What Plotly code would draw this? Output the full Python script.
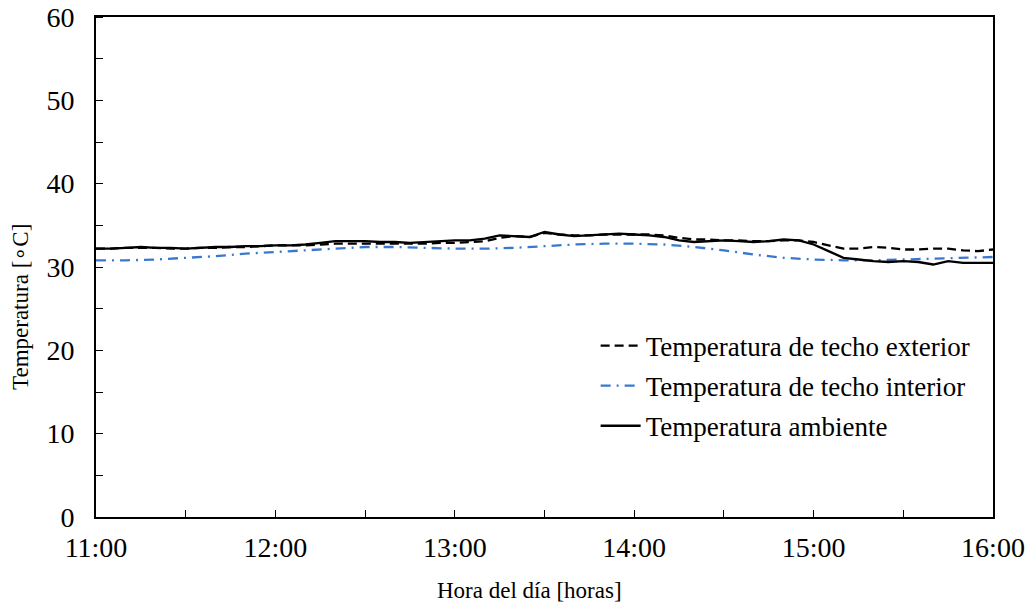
import plotly.graph_objects as go

# 5-minute timestamps from 11:00 to 16:00
times = [f"2024-01-01 {h:02d}:{m:02d}" for h in range(11, 16) for m in range(0, 60, 5)] + ["2024-01-01 16:00"]

t_exterior = [
    32.2, 32.2, 32.3, 32.3, 32.3, 32.2, 32.2, 32.3, 32.3, 32.4, 32.4, 32.5,
    32.6, 32.6, 32.6, 32.7, 32.8, 32.8, 32.8, 32.8, 32.8, 32.8, 32.8, 32.9,
    32.9, 33.0, 33.1, 33.5, 33.7, 33.6, 34.1, 33.9, 33.8, 33.8, 33.9, 33.9,
    33.9, 33.9, 33.8, 33.5, 33.3, 33.3, 33.2, 33.2, 33.1, 33.1, 33.2, 33.2,
    33.0, 32.6, 32.2, 32.2, 32.4, 32.3, 32.1, 32.1, 32.2, 32.2, 32.0, 31.9,
    32.1,
]

t_ambiente = [
    32.2, 32.2, 32.3, 32.4, 32.3, 32.3, 32.2, 32.3, 32.4, 32.4, 32.5, 32.5,
    32.6, 32.6, 32.7, 32.9, 33.1, 33.1, 33.1, 33.0, 33.0, 32.9, 33.0, 33.1,
    33.2, 33.2, 33.4, 33.8, 33.7, 33.6, 34.2, 33.9, 33.7, 33.8, 33.9, 34.0,
    33.9, 33.8, 33.6, 33.2, 33.0, 33.1, 33.2, 33.1, 33.0, 33.1, 33.3, 33.2,
    32.7, 31.9, 31.1, 30.9, 30.7, 30.6, 30.7, 30.6, 30.3, 30.7, 30.5, 30.5,
    30.5,
]

# 10-minute timestamps for the interior roof temperature
times_int = [f"2024-01-01 {h:02d}:{m:02d}" for h in range(11, 16) for m in range(0, 60, 10)] + ["2024-01-01 16:00"]
t_interior = [
    30.8, 30.8, 30.9, 31.1, 31.3, 31.6,
    31.8, 32.0, 32.2, 32.4, 32.4, 32.3,
    32.2, 32.2, 32.3, 32.5, 32.7, 32.8,
    32.8, 32.7, 32.4, 32.0, 31.5, 31.1,
    30.9, 30.8, 30.8, 30.9, 31.0, 31.1,
    31.2,
]

names = ["Temperatura de techo exterior", "Temperatura de techo interior", "Temperatura ambiente"]
x_ticks = ["2024-01-01 11:00", "2024-01-01 12:00", "2024-01-01 13:00",
           "2024-01-01 14:00", "2024-01-01 15:00", "2024-01-01 16:00"]
x_labels = ["11:00", "12:00", "13:00", "14:00", "15:00", "16:00"]
x_title = "Hora del día [horas]"
y_title = "Temperatura [∘C]"

FONT = "Liberation Serif"
FS_TICK = 28
FS_LEG = 27
FS_TITLE = 23

fig = go.Figure()
fig.add_trace(go.Scatter(x=times, y=t_exterior, mode="lines", name=names[0], legendgroup="a",
                         line=dict(color="black", width=2.3, dash="9px,5px")))
fig.add_trace(go.Scatter(x=times_int, y=t_interior, mode="lines", name=names[1], legendgroup="b",
                         line=dict(color="#3a78d0", width=2.3, dash="10px,6px,2px,6px")))
fig.add_trace(go.Scatter(x=times, y=t_ambiente, mode="lines", name=names[2], legendgroup="c",
                         line=dict(color="black", width=2.3)))

fig.update_layout(
    width=1027, height=604,
    margin=dict(l=96, r=34, t=17, b=87, autoexpand=False),
    paper_bgcolor="white", plot_bgcolor="white",
    font=dict(family=FONT, size=FS_TICK, color="black"),
    showlegend=True,
    legend=dict(x=0.557, y=0.391, xanchor="left", yanchor="top",
                bgcolor="rgba(0,0,0,0)", font=dict(size=FS_LEG, family=FONT),
                tracegroupgap=2, itemwidth=40),
    xaxis=dict(
        range=["2024-01-01 11:00", "2024-01-01 16:00"],
        tickmode="array", tickvals=x_ticks, ticktext=x_labels,
        ticks="inside", ticklen=7, tickwidth=1.3, tickcolor="black",
        minor=dict(dtick=30 * 60 * 1000, tick0="2024-01-01 11:00", ticks="inside",
                   ticklen=7, tickwidth=1.3, tickcolor="black", showgrid=False),
        showline=True, linecolor="black", linewidth=2, mirror=True,
        showgrid=False, zeroline=False, automargin=False,
        ticklabelstandoff=4,
        tickfont=dict(size=FS_TICK, family=FONT),
    ),
    yaxis=dict(
        range=[0, 60], dtick=10, tick0=0,
        ticks="outside", ticklen=0,
        minor=dict(dtick=5, ticks="inside", ticklen=7, tickwidth=1.3, tickcolor="black", showgrid=False),
        showline=True, linecolor="black", linewidth=2, mirror=True,
        showgrid=False, zeroline=False, automargin=False,
        ticklabelstandoff=14,
        tickfont=dict(size=FS_TICK, family=FONT),
    ),
    annotations=[
        dict(text=x_title, xref="paper", yref="paper", x=0.483, y=0, yshift=-73,
             xanchor="center", yanchor="middle", showarrow=False,
             font=dict(size=FS_TITLE, family=FONT)),
        dict(text=y_title, xref="paper", yref="paper", x=0, y=0.42, xshift=-76,
             xanchor="center", yanchor="middle", textangle=-90, showarrow=False,
             font=dict(size=FS_TITLE, family=FONT)),
    ],
)

fig.write_html("out.html", config={"displayModeBar": False})

# remove the default page margin so the figure sits at the window origin
with open("out.html", "r", encoding="utf-8") as f:
    html = f.read()
html = html.replace("<head>", "<head><style>html,body{margin:0;padding:0;}</style>", 1)
with open("out.html", "w", encoding="utf-8") as f:
    f.write(html)
